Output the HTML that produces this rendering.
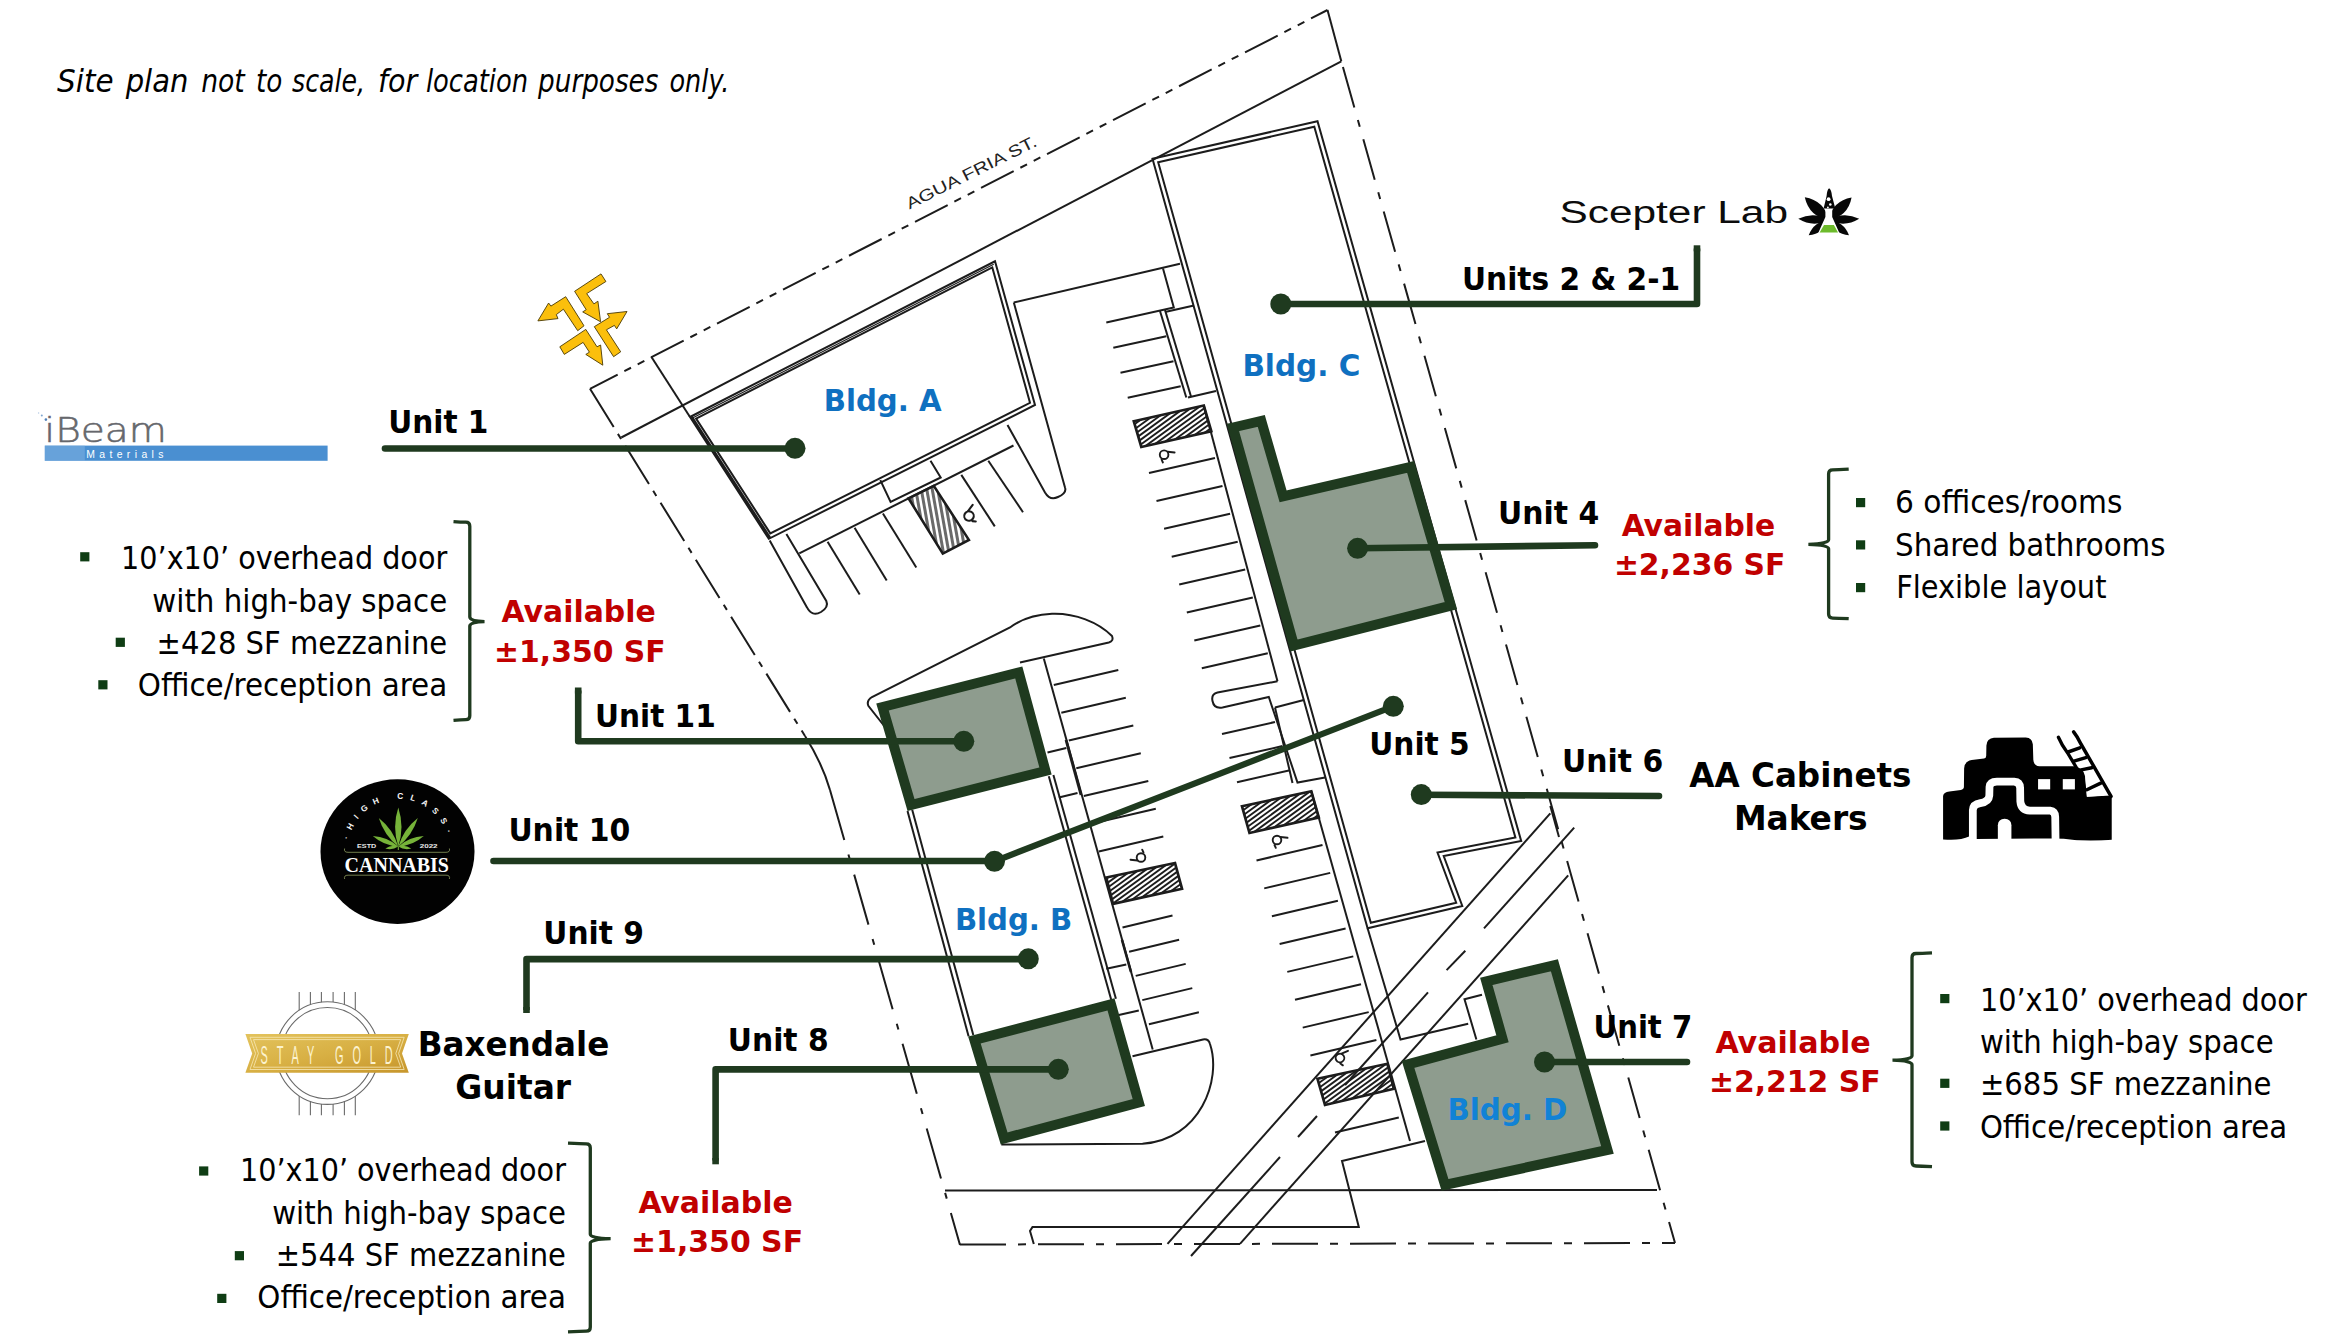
<!DOCTYPE html>
<html lang="en"><head><meta charset="utf-8"><title>Site plan</title>
<style>
html,body{margin:0;padding:0;background:#fff;}
body{width:2346px;height:1341px;overflow:hidden;}
svg{display:block;}
text{white-space:pre;}
</style></head>
<body>
<svg width="2346" height="1341" viewBox="0 0 2346 1341">
<rect width="2346" height="1341" fill="#fff"/>
<g id="plan" stroke-linecap="butt">
<line x1="590" y1="388.8" x2="1327.5" y2="10" stroke="#1c1c1c" stroke-width="2.0" stroke-dasharray="36.7 7.5 7.5 7.5 7.5 7.5" stroke-dashoffset="5.6"/>
<line x1="590" y1="388.8" x2="805" y2="736" stroke="#1c1c1c" stroke-width="2.0" stroke-dasharray="45 8 6 8"/>
<path d="M805,736 Q822.5,763.8 830,790" fill="none" stroke="#1c1c1c" stroke-width="2.0" />
<line x1="830" y1="790" x2="960" y2="1245" stroke="#1c1c1c" stroke-width="2.0" stroke-dasharray="52 15 6 15"/>
<line x1="960" y1="1244.5" x2="1675" y2="1243" stroke="#1c1c1c" stroke-width="2.0" stroke-dasharray="46 12 8 12"/>
<line x1="1341.3" y1="61.3" x2="1675" y2="1243" stroke="#1c1c1c" stroke-width="2.0" stroke-dasharray="42 13 7 13" stroke-dashoffset="-6"/>
<line x1="1341.3" y1="61.3" x2="1327.5" y2="10" stroke="#1c1c1c" stroke-width="2.0" />
<line x1="1550.3" y1="806" x2="1559" y2="837" stroke="#1c1c1c" stroke-width="2.0" />
<line x1="621.3" y1="437.5" x2="1341.3" y2="61.3" stroke="#1c1c1c" stroke-width="2.0" />
<line x1="651.3" y1="356.8" x2="690" y2="417" stroke="#1c1c1c" stroke-width="2.0" />
<polygon points="690,417 995,261.3 1035,405 768.8,538.8" fill="none" stroke="#1c1c1c" stroke-width="2.0" />
<polygon points="696.1,418.6 992.3,267.4 1030,402.8 770.3,533.4" fill="none" stroke="#1c1c1c" stroke-width="2.0" />
<line x1="691.6" y1="416.6" x2="770.2" y2="538.2" stroke="#1c1c1c" stroke-width="2.6" />
<line x1="693" y1="417.8" x2="993.7" y2="264.3" stroke="#1c1c1c" stroke-width="1.2" />
<line x1="799.3" y1="553.4" x2="1013.5" y2="445.5" stroke="#1c1c1c" stroke-width="2.0" />
<path d="M769.7,540.5 L807,607.4 Q812,617 821,612 Q829,607 826.3,601 L786.4,534.1" fill="none" stroke="#1c1c1c" stroke-width="2.0" />
<line x1="827.6" y1="541.8" x2="859.7" y2="594.6" stroke="#1c1c1c" stroke-width="2.0" />
<line x1="854.6" y1="527.7" x2="886.7" y2="580.4" stroke="#1c1c1c" stroke-width="2.0" />
<line x1="882.9" y1="513.5" x2="916.3" y2="567.5" stroke="#1c1c1c" stroke-width="2.0" />
<line x1="961.3" y1="474.9" x2="994.8" y2="526.4" stroke="#1c1c1c" stroke-width="2.0" />
<line x1="988.3" y1="460.8" x2="1023" y2="512.2" stroke="#1c1c1c" stroke-width="2.0" />
<clipPath id="hb1"><polygon points="908.5,498.3 933.8,485.9 968.9,539.9 942.8,553.6"/></clipPath>
<g clip-path="url(#hb1)" stroke="#6a6a6a" stroke-width="3.0"><line x1="1012.3" y1="414.6" x2="1043.8" y2="593.3"/><line x1="1007" y1="415.6" x2="1038.5" y2="594.3"/><line x1="1001.7" y1="416.5" x2="1033.2" y2="595.2"/><line x1="996.3" y1="417.5" x2="1027.8" y2="596.2"/><line x1="991" y1="418.4" x2="1022.5" y2="597.1"/><line x1="985.7" y1="419.3" x2="1017.2" y2="598"/><line x1="980.4" y1="420.3" x2="1011.9" y2="599"/><line x1="975.1" y1="421.2" x2="1006.6" y2="599.9"/><line x1="969.8" y1="422.1" x2="1001.3" y2="600.8"/><line x1="964.4" y1="423.1" x2="995.9" y2="601.8"/><line x1="959.1" y1="424" x2="990.6" y2="602.7"/><line x1="953.8" y1="425" x2="985.3" y2="603.7"/><line x1="948.5" y1="425.9" x2="980" y2="604.6"/><line x1="943.2" y1="426.8" x2="974.7" y2="605.5"/><line x1="937.8" y1="427.8" x2="969.4" y2="606.5"/><line x1="932.5" y1="428.7" x2="964" y2="607.4"/><line x1="927.2" y1="429.6" x2="958.7" y2="608.3"/><line x1="921.9" y1="430.6" x2="953.4" y2="609.3"/><line x1="916.6" y1="431.5" x2="948.1" y2="610.2"/><line x1="911.3" y1="432.5" x2="942.8" y2="611.2"/><line x1="905.9" y1="433.4" x2="937.4" y2="612.1"/><line x1="900.6" y1="434.3" x2="932.1" y2="613"/><line x1="895.3" y1="435.3" x2="926.8" y2="614"/><line x1="890" y1="436.2" x2="921.5" y2="614.9"/><line x1="884.7" y1="437.2" x2="916.2" y2="615.8"/><line x1="879.3" y1="438.1" x2="910.9" y2="616.8"/><line x1="874" y1="439" x2="905.5" y2="617.7"/><line x1="868.7" y1="440" x2="900.2" y2="618.7"/><line x1="863.4" y1="440.9" x2="894.9" y2="619.6"/><line x1="858.1" y1="441.8" x2="889.6" y2="620.5"/><line x1="852.8" y1="442.8" x2="884.3" y2="621.5"/><line x1="847.4" y1="443.7" x2="878.9" y2="622.4"/><line x1="842.1" y1="444.7" x2="873.6" y2="623.4"/><line x1="836.8" y1="445.6" x2="868.3" y2="624.3"/></g>
<polygon points="908.5,498.3 933.8,485.9 968.9,539.9 942.8,553.6" fill="none" stroke="#1c1c1c" stroke-width="2.6"/>
<g transform="translate(969,516) rotate(-60) scale(1.1)" fill="none" stroke="#1c1c1c" stroke-width="1.9" stroke-linecap="round"><circle cx="0" cy="0" r="4.3"/><path d="M3.5,-3 L10.5,-2.2"/><path d="M-2.5,5 L-1.2,7.8"/></g>
<polyline points="880.3,480.1 890.6,502 940.7,477.5 930.5,460.8" fill="none" stroke="#1c1c1c" stroke-width="2.0" />
<path d="M1007.5,425 L1045,492.5 Q1050,501 1058,497 Q1067,493 1065,487.5 L1013.8,302.5" fill="none" stroke="#1c1c1c" stroke-width="2.0" />
<line x1="1013.8" y1="302.5" x2="1180" y2="263.8" stroke="#1c1c1c" stroke-width="2.0" />
<polyline points="1163,268.5 1173.8,307.5 1106.3,322.5" fill="none" stroke="#1c1c1c" stroke-width="2.0" />
<polyline points="1160,311 1186.3,397.5" fill="none" stroke="#1c1c1c" stroke-width="2.0" />
<polyline points="1165,310 1191,396.5" fill="none" stroke="#1c1c1c" stroke-width="2.0" />
<line x1="1165" y1="312" x2="1194" y2="305.5" stroke="#1c1c1c" stroke-width="2.0" />
<line x1="1188" y1="397.5" x2="1216" y2="391" stroke="#1c1c1c" stroke-width="2.0" />
<line x1="1166.3" y1="336.3" x2="1113.3" y2="347.8" stroke="#1c1c1c" stroke-width="2.0" />
<line x1="1173.5" y1="361.3" x2="1120.5" y2="372.8" stroke="#1c1c1c" stroke-width="2.0" />
<line x1="1180.7" y1="386.3" x2="1127.7" y2="397.8" stroke="#1c1c1c" stroke-width="2.0" />
<clipPath id="hb2"><polygon points="1133.8,421.3 1203.8,405.5 1211.3,431.3 1141.3,447"/></clipPath>
<g clip-path="url(#hb2)" stroke="#1c1c1c" stroke-width="1.9"><line x1="1049.8" y1="406.8" x2="1192" y2="303.5"/><line x1="1052.1" y1="410" x2="1194.4" y2="306.7"/><line x1="1054.5" y1="413.3" x2="1196.7" y2="309.9"/><line x1="1056.8" y1="416.5" x2="1199.1" y2="313.2"/><line x1="1059.2" y1="419.7" x2="1201.4" y2="316.4"/><line x1="1061.5" y1="423" x2="1203.8" y2="319.6"/><line x1="1063.9" y1="426.2" x2="1206.1" y2="322.9"/><line x1="1066.2" y1="429.5" x2="1208.5" y2="326.1"/><line x1="1068.6" y1="432.7" x2="1210.8" y2="329.3"/><line x1="1070.9" y1="435.9" x2="1213.2" y2="332.6"/><line x1="1073.3" y1="439.2" x2="1215.5" y2="335.8"/><line x1="1075.6" y1="442.4" x2="1217.9" y2="339.1"/><line x1="1078" y1="445.6" x2="1220.2" y2="342.3"/><line x1="1080.3" y1="448.9" x2="1222.6" y2="345.5"/><line x1="1082.7" y1="452.1" x2="1224.9" y2="348.8"/><line x1="1085" y1="455.3" x2="1227.3" y2="352"/><line x1="1087.4" y1="458.6" x2="1229.6" y2="355.2"/><line x1="1089.7" y1="461.8" x2="1232" y2="358.5"/><line x1="1092.1" y1="465.1" x2="1234.3" y2="361.7"/><line x1="1094.4" y1="468.3" x2="1236.7" y2="364.9"/><line x1="1096.8" y1="471.5" x2="1239" y2="368.2"/><line x1="1099.1" y1="474.8" x2="1241.4" y2="371.4"/><line x1="1101.5" y1="478" x2="1243.7" y2="374.6"/><line x1="1103.8" y1="481.2" x2="1246.1" y2="377.9"/><line x1="1106.2" y1="484.5" x2="1248.4" y2="381.1"/><line x1="1108.5" y1="487.7" x2="1250.8" y2="384.4"/><line x1="1110.9" y1="490.9" x2="1253.1" y2="387.6"/><line x1="1113.2" y1="494.2" x2="1255.5" y2="390.8"/><line x1="1115.6" y1="497.4" x2="1257.8" y2="394.1"/><line x1="1117.9" y1="500.6" x2="1260.2" y2="397.3"/><line x1="1120.3" y1="503.9" x2="1262.5" y2="400.5"/><line x1="1122.6" y1="507.1" x2="1264.9" y2="403.8"/><line x1="1125" y1="510.4" x2="1267.2" y2="407"/><line x1="1127.3" y1="513.6" x2="1269.6" y2="410.2"/><line x1="1129.7" y1="516.8" x2="1271.9" y2="413.5"/><line x1="1132" y1="520.1" x2="1274.3" y2="416.7"/><line x1="1134.4" y1="523.3" x2="1276.6" y2="420"/><line x1="1136.7" y1="526.5" x2="1279" y2="423.2"/><line x1="1139.1" y1="529.8" x2="1281.3" y2="426.4"/><line x1="1141.4" y1="533" x2="1283.7" y2="429.7"/><line x1="1143.8" y1="536.2" x2="1286" y2="432.9"/><line x1="1146.2" y1="539.5" x2="1288.4" y2="436.1"/><line x1="1148.5" y1="542.7" x2="1290.7" y2="439.4"/><line x1="1150.9" y1="546" x2="1293.1" y2="442.6"/></g>
<polygon points="1133.8,421.3 1203.8,405.5 1211.3,431.3 1141.3,447" fill="none" stroke="#1c1c1c" stroke-width="2.7"/>
<g transform="translate(1164.1,454.7) rotate(0) scale(1)" fill="none" stroke="#1c1c1c" stroke-width="1.9" stroke-linecap="round"><circle cx="0" cy="0" r="4.3"/><path d="M3.5,-3 L10.5,-2.2"/><path d="M-2.5,5 L-1.2,7.8"/></g>
<line x1="1203.8" y1="405.6" x2="1277.5" y2="681.3" stroke="#1c1c1c" stroke-width="2.0" />
<line x1="1215" y1="458" x2="1149" y2="473" stroke="#1c1c1c" stroke-width="2.0" />
<line x1="1222.5" y1="485.9" x2="1156.5" y2="500.9" stroke="#1c1c1c" stroke-width="2.0" />
<line x1="1230.1" y1="513.8" x2="1164.1" y2="528.8" stroke="#1c1c1c" stroke-width="2.0" />
<line x1="1237.7" y1="541.7" x2="1171.7" y2="556.7" stroke="#1c1c1c" stroke-width="2.0" />
<line x1="1245.2" y1="569.6" x2="1179.2" y2="584.6" stroke="#1c1c1c" stroke-width="2.0" />
<line x1="1252.8" y1="597.5" x2="1186.8" y2="612.5" stroke="#1c1c1c" stroke-width="2.0" />
<line x1="1260.3" y1="625.4" x2="1194.3" y2="640.4" stroke="#1c1c1c" stroke-width="2.0" />
<line x1="1267.8" y1="653.3" x2="1201.8" y2="668.3" stroke="#1c1c1c" stroke-width="2.0" />
<path d="M1277.5,681.3 L1217.5,692.5 Q1211,694 1212.5,701 Q1214,709 1222.5,707.5 L1268.8,697 L1297.5,782.5 L1325,777.5" fill="none" stroke="#1c1c1c" stroke-width="2.0" />
<polyline points="1275,707.5 1303.8,700" fill="none" stroke="#1c1c1c" stroke-width="2.0" />
<polyline points="1275,707.5 1292.5,783" fill="none" stroke="#1c1c1c" stroke-width="2.0" />
<line x1="1275" y1="722" x2="1222" y2="734" stroke="#1c1c1c" stroke-width="2.0" />
<line x1="1282.5" y1="746.1" x2="1229.5" y2="758.1" stroke="#1c1c1c" stroke-width="2.0" />
<line x1="1290" y1="770.2" x2="1237" y2="782.2" stroke="#1c1c1c" stroke-width="2.0" />
<clipPath id="hb3"><polygon points="1242,806.3 1311.3,791.3 1318.8,817.5 1249.5,833"/></clipPath>
<g clip-path="url(#hb3)" stroke="#1c1c1c" stroke-width="1.9"><line x1="1158.3" y1="792.8" x2="1299.7" y2="690.1"/><line x1="1160.7" y1="796.1" x2="1302.1" y2="693.3"/><line x1="1163" y1="799.3" x2="1304.4" y2="696.6"/><line x1="1165.4" y1="802.5" x2="1306.8" y2="699.8"/><line x1="1167.7" y1="805.8" x2="1309.1" y2="703"/><line x1="1170.1" y1="809" x2="1311.5" y2="706.3"/><line x1="1172.4" y1="812.2" x2="1313.8" y2="709.5"/><line x1="1174.8" y1="815.5" x2="1316.2" y2="712.7"/><line x1="1177.1" y1="818.7" x2="1318.5" y2="716"/><line x1="1179.5" y1="821.9" x2="1320.9" y2="719.2"/><line x1="1181.8" y1="825.2" x2="1323.2" y2="722.4"/><line x1="1184.2" y1="828.4" x2="1325.6" y2="725.7"/><line x1="1186.5" y1="831.6" x2="1327.9" y2="728.9"/><line x1="1188.9" y1="834.9" x2="1330.3" y2="732.2"/><line x1="1191.2" y1="838.1" x2="1332.6" y2="735.4"/><line x1="1193.6" y1="841.4" x2="1335" y2="738.6"/><line x1="1196" y1="844.6" x2="1337.4" y2="741.9"/><line x1="1198.3" y1="847.8" x2="1339.7" y2="745.1"/><line x1="1200.7" y1="851.1" x2="1342.1" y2="748.3"/><line x1="1203" y1="854.3" x2="1344.4" y2="751.6"/><line x1="1205.4" y1="857.5" x2="1346.8" y2="754.8"/><line x1="1207.7" y1="860.8" x2="1349.1" y2="758"/><line x1="1210.1" y1="864" x2="1351.5" y2="761.3"/><line x1="1212.4" y1="867.2" x2="1353.8" y2="764.5"/><line x1="1214.8" y1="870.5" x2="1356.2" y2="767.7"/><line x1="1217.1" y1="873.7" x2="1358.5" y2="771"/><line x1="1219.5" y1="877" x2="1360.9" y2="774.2"/><line x1="1221.8" y1="880.2" x2="1363.2" y2="777.5"/><line x1="1224.2" y1="883.4" x2="1365.6" y2="780.7"/><line x1="1226.5" y1="886.7" x2="1367.9" y2="783.9"/><line x1="1228.9" y1="889.9" x2="1370.3" y2="787.2"/><line x1="1231.2" y1="893.1" x2="1372.6" y2="790.4"/><line x1="1233.6" y1="896.4" x2="1375" y2="793.6"/><line x1="1235.9" y1="899.6" x2="1377.3" y2="796.9"/><line x1="1238.3" y1="902.8" x2="1379.7" y2="800.1"/><line x1="1240.6" y1="906.1" x2="1382" y2="803.3"/><line x1="1243" y1="909.3" x2="1384.4" y2="806.6"/><line x1="1245.3" y1="912.6" x2="1386.7" y2="809.8"/><line x1="1247.7" y1="915.8" x2="1389.1" y2="813.1"/><line x1="1250" y1="919" x2="1391.4" y2="816.3"/><line x1="1252.4" y1="922.3" x2="1393.8" y2="819.5"/><line x1="1254.7" y1="925.5" x2="1396.1" y2="822.8"/><line x1="1257.1" y1="928.7" x2="1398.5" y2="826"/><line x1="1259.4" y1="932" x2="1400.8" y2="829.2"/></g>
<polygon points="1242,806.3 1311.3,791.3 1318.8,817.5 1249.5,833" fill="none" stroke="#1c1c1c" stroke-width="2.7"/>
<g transform="translate(1277,840) rotate(0) scale(1)" fill="none" stroke="#1c1c1c" stroke-width="1.9" stroke-linecap="round"><circle cx="0" cy="0" r="4.3"/><path d="M3.5,-3 L10.5,-2.2"/><path d="M-2.5,5 L-1.2,7.8"/></g>
<line x1="1311.3" y1="791.3" x2="1410" y2="1141" stroke="#1c1c1c" stroke-width="2.0" />
<line x1="1322.5" y1="845" x2="1256.5" y2="860.5" stroke="#1c1c1c" stroke-width="2.0" />
<line x1="1330.2" y1="872.9" x2="1264.2" y2="888.4" stroke="#1c1c1c" stroke-width="2.0" />
<line x1="1337.9" y1="900.7" x2="1271.9" y2="916.2" stroke="#1c1c1c" stroke-width="2.0" />
<line x1="1345.6" y1="928.5" x2="1279.6" y2="944" stroke="#1c1c1c" stroke-width="2.0" />
<line x1="1353.3" y1="956.4" x2="1287.3" y2="971.9" stroke="#1c1c1c" stroke-width="2.0" />
<line x1="1361" y1="984.2" x2="1295" y2="999.8" stroke="#1c1c1c" stroke-width="2.0" />
<line x1="1368.7" y1="1012.1" x2="1302.7" y2="1027.6" stroke="#1c1c1c" stroke-width="2.0" />
<line x1="1376.4" y1="1040" x2="1310.4" y2="1055.5" stroke="#1c1c1c" stroke-width="2.0" />
<clipPath id="hb4"><polygon points="1317.5,1078.8 1387.5,1063.8 1393.8,1088.8 1325,1105"/></clipPath>
<g clip-path="url(#hb4)" stroke="#1c1c1c" stroke-width="1.9"><line x1="1234.5" y1="1065.2" x2="1374.8" y2="963.3"/><line x1="1236.9" y1="1068.5" x2="1377.2" y2="966.5"/><line x1="1239.2" y1="1071.7" x2="1379.5" y2="969.8"/><line x1="1241.6" y1="1074.9" x2="1381.9" y2="973"/><line x1="1243.9" y1="1078.2" x2="1384.2" y2="976.2"/><line x1="1246.3" y1="1081.4" x2="1386.6" y2="979.5"/><line x1="1248.6" y1="1084.6" x2="1388.9" y2="982.7"/><line x1="1251" y1="1087.9" x2="1391.3" y2="985.9"/><line x1="1253.3" y1="1091.1" x2="1393.6" y2="989.2"/><line x1="1255.7" y1="1094.3" x2="1396" y2="992.4"/><line x1="1258" y1="1097.6" x2="1398.3" y2="995.6"/><line x1="1260.4" y1="1100.8" x2="1400.7" y2="998.9"/><line x1="1262.7" y1="1104" x2="1403" y2="1002.1"/><line x1="1265.1" y1="1107.3" x2="1405.4" y2="1005.3"/><line x1="1267.4" y1="1110.5" x2="1407.7" y2="1008.6"/><line x1="1269.8" y1="1113.8" x2="1410.1" y2="1011.8"/><line x1="1272.1" y1="1117" x2="1412.5" y2="1015.1"/><line x1="1274.5" y1="1120.2" x2="1414.8" y2="1018.3"/><line x1="1276.8" y1="1123.5" x2="1417.2" y2="1021.5"/><line x1="1279.2" y1="1126.7" x2="1419.5" y2="1024.8"/><line x1="1281.6" y1="1129.9" x2="1421.9" y2="1028"/><line x1="1283.9" y1="1133.2" x2="1424.2" y2="1031.2"/><line x1="1286.3" y1="1136.4" x2="1426.6" y2="1034.5"/><line x1="1288.6" y1="1139.6" x2="1428.9" y2="1037.7"/><line x1="1291" y1="1142.9" x2="1431.3" y2="1040.9"/><line x1="1293.3" y1="1146.1" x2="1433.6" y2="1044.2"/><line x1="1295.7" y1="1149.4" x2="1436" y2="1047.4"/><line x1="1298" y1="1152.6" x2="1438.3" y2="1050.7"/><line x1="1300.4" y1="1155.8" x2="1440.7" y2="1053.9"/><line x1="1302.7" y1="1159.1" x2="1443" y2="1057.1"/><line x1="1305.1" y1="1162.3" x2="1445.4" y2="1060.4"/><line x1="1307.4" y1="1165.5" x2="1447.7" y2="1063.6"/><line x1="1309.8" y1="1168.8" x2="1450.1" y2="1066.8"/><line x1="1312.1" y1="1172" x2="1452.4" y2="1070.1"/><line x1="1314.5" y1="1175.2" x2="1454.8" y2="1073.3"/><line x1="1316.8" y1="1178.5" x2="1457.1" y2="1076.5"/><line x1="1319.2" y1="1181.7" x2="1459.5" y2="1079.8"/><line x1="1321.5" y1="1185" x2="1461.8" y2="1083"/><line x1="1323.9" y1="1188.2" x2="1464.2" y2="1086.2"/><line x1="1326.2" y1="1191.4" x2="1466.5" y2="1089.5"/><line x1="1328.6" y1="1194.7" x2="1468.9" y2="1092.7"/><line x1="1330.9" y1="1197.9" x2="1471.2" y2="1096"/><line x1="1333.3" y1="1201.1" x2="1473.6" y2="1099.2"/><line x1="1335.6" y1="1204.4" x2="1475.9" y2="1102.4"/></g>
<polygon points="1317.5,1078.8 1387.5,1063.8 1393.8,1088.8 1325,1105" fill="none" stroke="#1c1c1c" stroke-width="2.7"/>
<g transform="translate(1340,1058) rotate(-30) scale(1)" fill="none" stroke="#1c1c1c" stroke-width="1.9" stroke-linecap="round"><circle cx="0" cy="0" r="4.3"/><path d="M3.5,-3 L10.5,-2.2"/><path d="M-2.5,5 L-1.2,7.8"/></g>
<line x1="1398.8" y1="1117.5" x2="1335" y2="1132.5" stroke="#1c1c1c" stroke-width="2.0" />
<polygon points="1152.5,158.8 1317.5,121.3 1521.2,841 1443.7,856 1462.3,906 1367.6,928.3" fill="none" stroke="#1c1c1c" stroke-width="2.0" />
<polygon points="1158.2,162.2 1314.3,126.8 1515.4,837.4 1437.5,852.5 1456.2,902.7 1370.8,922.8" fill="none" stroke="#1c1c1c" stroke-width="2.0" />
<polyline points="1367.6,928.3 1400.5,1039.5 1468.2,1023.8" fill="none" stroke="#1c1c1c" stroke-width="2.0" />
<polyline points="1476.4,1039.5 1464.5,999.2 1482,994.7" fill="none" stroke="#1c1c1c" stroke-width="2.0" />
<line x1="907.5" y1="811" x2="968.6" y2="1036.3" stroke="#1c1c1c" stroke-width="2.0" />
<line x1="912.2" y1="809.8" x2="973.3" y2="1035.1" stroke="#1c1c1c" stroke-width="2.0" />
<line x1="1048.8" y1="776.3" x2="1111.3" y2="1000" stroke="#1c1c1c" stroke-width="2.0" />
<line x1="1053.4" y1="775" x2="1115.9" y2="998.8" stroke="#1c1c1c" stroke-width="2.0" />
<line x1="1043.8" y1="658.5" x2="1152.7" y2="1049.5" stroke="#1c1c1c" stroke-width="2.0" />
<line x1="1066" y1="740" x2="1081" y2="795" stroke="#1c1c1c" stroke-width="2.8" />
<line x1="1122" y1="940" x2="1131" y2="972" stroke="#1c1c1c" stroke-width="2.6" />
<line x1="1047.5" y1="752.5" x2="1066.3" y2="748" stroke="#1c1c1c" stroke-width="2.0" />
<line x1="1058.8" y1="797.5" x2="1077.5" y2="793" stroke="#1c1c1c" stroke-width="2.0" />
<line x1="1106.3" y1="968.8" x2="1126.3" y2="964.5" stroke="#1c1c1c" stroke-width="2.0" />
<line x1="1118.8" y1="1015" x2="1138.8" y2="1010.5" stroke="#1c1c1c" stroke-width="2.0" />
<path d="M1020,662.5 L1108.8,642.5 Q1114,641 1112,636 C1098,622 1075,613 1052,613.8 C1035,614.5 1020,620 1010,627.5 L872,697 Q866,701 868.5,706 L885,727" fill="none" stroke="#1c1c1c" stroke-width="2.0" />
<line x1="1053.8" y1="685" x2="1118.3" y2="670" stroke="#1c1c1c" stroke-width="2.0" />
<line x1="1061.3" y1="712.8" x2="1125.8" y2="697.8" stroke="#1c1c1c" stroke-width="2.0" />
<line x1="1068.8" y1="740.5" x2="1133.3" y2="725.5" stroke="#1c1c1c" stroke-width="2.0" />
<line x1="1076.3" y1="768.2" x2="1140.8" y2="753.2" stroke="#1c1c1c" stroke-width="2.0" />
<line x1="1083.8" y1="796" x2="1148.3" y2="781" stroke="#1c1c1c" stroke-width="2.0" />
<line x1="1091.3" y1="823.8" x2="1155.8" y2="808.8" stroke="#1c1c1c" stroke-width="2.0" />
<line x1="1098.8" y1="851.5" x2="1163.3" y2="836.5" stroke="#1c1c1c" stroke-width="2.0" />
<g transform="translate(1141,857.5) rotate(180) scale(1)" fill="none" stroke="#1c1c1c" stroke-width="1.9" stroke-linecap="round"><circle cx="0" cy="0" r="4.3"/><path d="M3.5,-3 L10.5,-2.2"/><path d="M-2.5,5 L-1.2,7.8"/></g>
<clipPath id="hb5"><polygon points="1106.3,877.5 1175,863 1182,888.8 1113,903.8"/></clipPath>
<g clip-path="url(#hb5)" stroke="#1c1c1c" stroke-width="1.9"><line x1="1024" y1="864.4" x2="1163.2" y2="763.3"/><line x1="1026.4" y1="867.6" x2="1165.5" y2="766.5"/><line x1="1028.7" y1="870.8" x2="1167.9" y2="769.8"/><line x1="1031.1" y1="874.1" x2="1170.2" y2="773"/><line x1="1033.4" y1="877.3" x2="1172.6" y2="776.2"/><line x1="1035.8" y1="880.6" x2="1174.9" y2="779.5"/><line x1="1038.1" y1="883.8" x2="1177.3" y2="782.7"/><line x1="1040.5" y1="887" x2="1179.6" y2="785.9"/><line x1="1042.8" y1="890.3" x2="1182" y2="789.2"/><line x1="1045.2" y1="893.5" x2="1184.3" y2="792.4"/><line x1="1047.5" y1="896.7" x2="1186.7" y2="795.6"/><line x1="1049.9" y1="900" x2="1189" y2="798.9"/><line x1="1052.2" y1="903.2" x2="1191.4" y2="802.1"/><line x1="1054.6" y1="906.4" x2="1193.7" y2="805.4"/><line x1="1056.9" y1="909.7" x2="1196.1" y2="808.6"/><line x1="1059.3" y1="912.9" x2="1198.4" y2="811.8"/><line x1="1061.7" y1="916.2" x2="1200.8" y2="815.1"/><line x1="1064" y1="919.4" x2="1203.1" y2="818.3"/><line x1="1066.4" y1="922.6" x2="1205.5" y2="821.5"/><line x1="1068.7" y1="925.9" x2="1207.8" y2="824.8"/><line x1="1071.1" y1="929.1" x2="1210.2" y2="828"/><line x1="1073.4" y1="932.3" x2="1212.5" y2="831.2"/><line x1="1075.8" y1="935.6" x2="1214.9" y2="834.5"/><line x1="1078.1" y1="938.8" x2="1217.3" y2="837.7"/><line x1="1080.5" y1="942" x2="1219.6" y2="840.9"/><line x1="1082.8" y1="945.3" x2="1222" y2="844.2"/><line x1="1085.2" y1="948.5" x2="1224.3" y2="847.4"/><line x1="1087.5" y1="951.7" x2="1226.7" y2="850.7"/><line x1="1089.9" y1="955" x2="1229" y2="853.9"/><line x1="1092.2" y1="958.2" x2="1231.4" y2="857.1"/><line x1="1094.6" y1="961.5" x2="1233.7" y2="860.4"/><line x1="1096.9" y1="964.7" x2="1236.1" y2="863.6"/><line x1="1099.3" y1="967.9" x2="1238.4" y2="866.8"/><line x1="1101.6" y1="971.2" x2="1240.8" y2="870.1"/><line x1="1104" y1="974.4" x2="1243.1" y2="873.3"/><line x1="1106.3" y1="977.6" x2="1245.5" y2="876.5"/><line x1="1108.7" y1="980.9" x2="1247.8" y2="879.8"/><line x1="1111" y1="984.1" x2="1250.2" y2="883"/><line x1="1113.4" y1="987.3" x2="1252.5" y2="886.3"/><line x1="1115.7" y1="990.6" x2="1254.9" y2="889.5"/><line x1="1118.1" y1="993.8" x2="1257.2" y2="892.7"/><line x1="1120.4" y1="997.1" x2="1259.6" y2="896"/><line x1="1122.8" y1="1000.3" x2="1261.9" y2="899.2"/></g>
<polygon points="1106.3,877.5 1175,863 1182,888.8 1113,903.8" fill="none" stroke="#1c1c1c" stroke-width="2.7"/>
<line x1="1122.5" y1="927.5" x2="1172.5" y2="915.5" stroke="#1c1c1c" stroke-width="2.0" />
<line x1="1129.1" y1="951.7" x2="1179.1" y2="939.7" stroke="#1c1c1c" stroke-width="2.0" />
<line x1="1135.7" y1="975.9" x2="1185.7" y2="963.9" stroke="#1c1c1c" stroke-width="2.0" />
<line x1="1142.3" y1="1000.1" x2="1192.3" y2="988.1" stroke="#1c1c1c" stroke-width="2.0" />
<line x1="1148.9" y1="1024.3" x2="1198.9" y2="1012.3" stroke="#1c1c1c" stroke-width="2.0" />
<path d="M1132.5,1056.3 L1203,1039.5 Q1208.5,1038.5 1210,1044 C1222,1080 1200,1140 1142.5,1143.8 L1001.3,1144.5" fill="none" stroke="#1c1c1c" stroke-width="2.0" />
<line x1="945" y1="1190.5" x2="1657" y2="1190" stroke="#1c1c1c" stroke-width="2.0" />
<polyline points="1033.8,1244 1030,1231 1032.5,1227 1358.8,1227 1342,1161 1425,1141" fill="none" stroke="#1c1c1c" stroke-width="2.0" />
<line x1="1550.3" y1="813.4" x2="1167.5" y2="1243.8" stroke="#1c1c1c" stroke-width="2.0" />
<line x1="1568.2" y1="875.3" x2="1240" y2="1243.8" stroke="#1c1c1c" stroke-width="2.0" />
<line x1="1574.2" y1="827.6" x2="1484" y2="928.3" stroke="#1c1c1c" stroke-width="2.0" />
<line x1="1465.3" y1="950.7" x2="1446.6" y2="970.1" stroke="#1c1c1c" stroke-width="2.0" />
<line x1="1428" y1="992.4" x2="1345" y2="1085" stroke="#1c1c1c" stroke-width="2.0" />
<line x1="1317" y1="1116" x2="1298" y2="1137" stroke="#1c1c1c" stroke-width="2.0" />
<line x1="1280" y1="1157" x2="1191" y2="1256" stroke="#1c1c1c" stroke-width="2.0" />
</g>
<g id="units">
<polygon points="1232.9,427.5 1261.3,421 1283.1,496.3 1410.6,466.9 1450.9,605.6 1294,645.5" fill="#8e9c8e" stroke="#1f3a1f" stroke-width="10" stroke-linejoin="miter"/>
<polygon points="882.5,707 1018.8,672.5 1045.5,771 911,805" fill="#8e9c8e" stroke="#1f3a1f" stroke-width="10" stroke-linejoin="miter"/>
<polygon points="974.4,1040 1111,1004.4 1138.8,1102.5 1004.1,1138.5" fill="#8e9c8e" stroke="#1f3a1f" stroke-width="10" stroke-linejoin="miter"/>
<polygon points="1486.3,981.3 1554.4,965.3 1607.5,1150 1445,1185 1408,1064.3 1502.5,1038.8" fill="#8e9c8e" stroke="#1f3a1f" stroke-width="10" stroke-linejoin="miter"/>
</g>
<g id="leaders">
<path d="M385,448.5 H795" fill="none" stroke="#1f3a1f" stroke-width="6.6" stroke-linecap="round" stroke-linejoin="round"/>
<circle cx="795" cy="448.3" r="10.5" fill="#1f3a1f"/>
<path d="M1280.8,304 H1697 V248.5" fill="none" stroke="#1f3a1f" stroke-width="6.6" stroke-linecap="butt" stroke-linejoin="round"/>
<circle cx="1280.8" cy="304" r="10.5" fill="#1f3a1f"/>
<path d="M1357.6,548.3 L1595,545.2" fill="none" stroke="#1f3a1f" stroke-width="6.6" stroke-linecap="round" stroke-linejoin="round"/>
<circle cx="1357.6" cy="548.3" r="10.5" fill="#1f3a1f"/>
<path d="M1393.3,706.3 L994.5,861.3" fill="none" stroke="#1f3a1f" stroke-width="6.2" stroke-linecap="round" stroke-linejoin="round"/>
<circle cx="1393.3" cy="706.3" r="10.5" fill="#1f3a1f"/>
<path d="M1421.3,794.8 L1659,796" fill="none" stroke="#1f3a1f" stroke-width="6.6" stroke-linecap="round" stroke-linejoin="round"/>
<circle cx="1421.3" cy="794.6" r="10.5" fill="#1f3a1f"/>
<path d="M1544.5,1062 H1687" fill="none" stroke="#1f3a1f" stroke-width="6.6" stroke-linecap="round" stroke-linejoin="round"/>
<circle cx="1544.5" cy="1062" r="10.5" fill="#1f3a1f"/>
<path d="M715.6,1160.5 V1069.4 H1058.3" fill="none" stroke="#1f3a1f" stroke-width="6.6" stroke-linecap="butt" stroke-linejoin="round"/>
<circle cx="1058.3" cy="1069.3" r="10.5" fill="#1f3a1f"/>
<path d="M526.5,1010 V959.1 H1028.3" fill="none" stroke="#1f3a1f" stroke-width="6.6" stroke-linecap="butt" stroke-linejoin="round"/>
<circle cx="1028.3" cy="958.8" r="10.5" fill="#1f3a1f"/>
<path d="M493.5,861 H994.5" fill="none" stroke="#1f3a1f" stroke-width="6.6" stroke-linecap="round" stroke-linejoin="round"/>
<circle cx="994.5" cy="861.3" r="10.5" fill="#1f3a1f"/>
<path d="M578.2,690.5 V741.2 H963.8" fill="none" stroke="#1f3a1f" stroke-width="6.6" stroke-linecap="butt" stroke-linejoin="round"/>
<circle cx="963.8" cy="741.3" r="10.5" fill="#1f3a1f"/>
</g>
<g fill="#1f3a1f"><rect x="1693.7" y="245.3" width="6.6" height="6"/><rect x="712.3" y="1158" width="6.6" height="6.3"/><rect x="523.2" y="1007" width="6.6" height="6"/><rect x="574.9" y="687.5" width="6.6" height="6"/></g>
<g id="labels">
<text x="388.2" y="433.3" font-family="'DejaVu Sans Condensed','DejaVu Sans','Liberation Sans',sans-serif" font-size="32.5" font-weight="bold" font-style="normal" fill="#000" textLength="100.2" lengthAdjust="spacingAndGlyphs" >Unit 1</text>
<text x="1462" y="289.9" font-family="'DejaVu Sans Condensed','DejaVu Sans','Liberation Sans',sans-serif" font-size="32.5" font-weight="bold" font-style="normal" fill="#000" textLength="218.1" lengthAdjust="spacingAndGlyphs" >Units 2 &amp; 2-1</text>
<text x="1498.1" y="523.6" font-family="'DejaVu Sans Condensed','DejaVu Sans','Liberation Sans',sans-serif" font-size="32.5" font-weight="bold" font-style="normal" fill="#000" textLength="101.1" lengthAdjust="spacingAndGlyphs" >Unit 4</text>
<text x="1369.2" y="754.5" font-family="'DejaVu Sans Condensed','DejaVu Sans','Liberation Sans',sans-serif" font-size="32.5" font-weight="bold" font-style="normal" fill="#000" textLength="100.5" lengthAdjust="spacingAndGlyphs" >Unit 5</text>
<text x="1562.1" y="771.8" font-family="'DejaVu Sans Condensed','DejaVu Sans','Liberation Sans',sans-serif" font-size="32.5" font-weight="bold" font-style="normal" fill="#000" textLength="101.1" lengthAdjust="spacingAndGlyphs" >Unit 6</text>
<text x="1593.5" y="1038" font-family="'DejaVu Sans Condensed','DejaVu Sans','Liberation Sans',sans-serif" font-size="32.5" font-weight="bold" font-style="normal" fill="#000" textLength="98.7" lengthAdjust="spacingAndGlyphs" >Unit 7</text>
<text x="727.8" y="1051.1" font-family="'DejaVu Sans Condensed','DejaVu Sans','Liberation Sans',sans-serif" font-size="32.5" font-weight="bold" font-style="normal" fill="#000" textLength="100.8" lengthAdjust="spacingAndGlyphs" >Unit 8</text>
<text x="543.3" y="944.4" font-family="'DejaVu Sans Condensed','DejaVu Sans','Liberation Sans',sans-serif" font-size="32.5" font-weight="bold" font-style="normal" fill="#000" textLength="100.5" lengthAdjust="spacingAndGlyphs" >Unit 9</text>
<text x="508.4" y="841.3" font-family="'DejaVu Sans Condensed','DejaVu Sans','Liberation Sans',sans-serif" font-size="32.5" font-weight="bold" font-style="normal" fill="#000" textLength="121.9" lengthAdjust="spacingAndGlyphs" >Unit 10</text>
<text x="595" y="726.6" font-family="'DejaVu Sans Condensed','DejaVu Sans','Liberation Sans',sans-serif" font-size="32.5" font-weight="bold" font-style="normal" fill="#000" textLength="120.7" lengthAdjust="spacingAndGlyphs" >Unit 11</text>
<text x="1689.3" y="787" font-family="'DejaVu Sans Condensed','DejaVu Sans','Liberation Sans',sans-serif" font-size="33" font-weight="bold" font-style="normal" fill="#000" textLength="222.2" lengthAdjust="spacingAndGlyphs" >AA Cabinets</text>
<text x="1733.9" y="830.4" font-family="'DejaVu Sans Condensed','DejaVu Sans','Liberation Sans',sans-serif" font-size="33" font-weight="bold" font-style="normal" fill="#000" textLength="133.8" lengthAdjust="spacingAndGlyphs" >Makers</text>
<text x="417.7" y="1055.6" font-family="'DejaVu Sans Condensed','DejaVu Sans','Liberation Sans',sans-serif" font-size="33" font-weight="bold" font-style="normal" fill="#000" textLength="191.6" lengthAdjust="spacingAndGlyphs" >Baxendale</text>
<text x="455.2" y="1099.2" font-family="'DejaVu Sans Condensed','DejaVu Sans','Liberation Sans',sans-serif" font-size="33" font-weight="bold" font-style="normal" fill="#000" textLength="115.9" lengthAdjust="spacingAndGlyphs" >Guitar</text>
<text x="823.7" y="411.3" font-family="'DejaVu Sans Condensed','DejaVu Sans','Liberation Sans',sans-serif" font-size="31" font-weight="bold" font-style="normal" fill="#0f70c0" textLength="117.8" lengthAdjust="spacingAndGlyphs" >Bldg. A</text>
<text x="954.9" y="930" font-family="'DejaVu Sans Condensed','DejaVu Sans','Liberation Sans',sans-serif" font-size="31" font-weight="bold" font-style="normal" fill="#0f70c0" textLength="117.4" lengthAdjust="spacingAndGlyphs" >Bldg. B</text>
<text x="1242.4" y="376.3" font-family="'DejaVu Sans Condensed','DejaVu Sans','Liberation Sans',sans-serif" font-size="31" font-weight="bold" font-style="normal" fill="#0f70c0" textLength="117.9" lengthAdjust="spacingAndGlyphs" >Bldg. C</text>
<text x="1447.4" y="1120" font-family="'DejaVu Sans Condensed','DejaVu Sans','Liberation Sans',sans-serif" font-size="31" font-weight="bold" font-style="normal" fill="#1182d6" textLength="119.9" lengthAdjust="spacingAndGlyphs" >Bldg. D</text>
<text x="501.6" y="621.7" font-family="'DejaVu Sans Condensed','DejaVu Sans','Liberation Sans',sans-serif" font-size="30.5" font-weight="bold" font-style="normal" fill="#c00000" textLength="154.1" lengthAdjust="spacingAndGlyphs" >Available</text>
<text x="494.1" y="661.7" font-family="'DejaVu Sans Condensed','DejaVu Sans','Liberation Sans',sans-serif" font-size="30.5" font-weight="bold" font-style="normal" fill="#c00000" textLength="171.6" lengthAdjust="spacingAndGlyphs" >±1,350 SF</text>
<text x="1621.7" y="535.6" font-family="'DejaVu Sans Condensed','DejaVu Sans','Liberation Sans',sans-serif" font-size="30.5" font-weight="bold" font-style="normal" fill="#c00000" textLength="153.6" lengthAdjust="spacingAndGlyphs" >Available</text>
<text x="1613.9" y="575.2" font-family="'DejaVu Sans Condensed','DejaVu Sans','Liberation Sans',sans-serif" font-size="30.5" font-weight="bold" font-style="normal" fill="#c00000" textLength="171.5" lengthAdjust="spacingAndGlyphs" >±2,236 SF</text>
<text x="1715.5" y="1053.3" font-family="'DejaVu Sans Condensed','DejaVu Sans','Liberation Sans',sans-serif" font-size="30.5" font-weight="bold" font-style="normal" fill="#c00000" textLength="155.3" lengthAdjust="spacingAndGlyphs" >Available</text>
<text x="1708.9" y="1092.4" font-family="'DejaVu Sans Condensed','DejaVu Sans','Liberation Sans',sans-serif" font-size="30.5" font-weight="bold" font-style="normal" fill="#c00000" textLength="171.8" lengthAdjust="spacingAndGlyphs" >±2,212 SF</text>
<text x="638.4" y="1213.4" font-family="'DejaVu Sans Condensed','DejaVu Sans','Liberation Sans',sans-serif" font-size="30.5" font-weight="bold" font-style="normal" fill="#c00000" textLength="154.3" lengthAdjust="spacingAndGlyphs" >Available</text>
<text x="631" y="1252.2" font-family="'DejaVu Sans Condensed','DejaVu Sans','Liberation Sans',sans-serif" font-size="30.5" font-weight="bold" font-style="normal" fill="#c00000" textLength="172.1" lengthAdjust="spacingAndGlyphs" >±1,350 SF</text>
<text transform="translate(909.5,209.5) rotate(-26.5)" x="0" y="0" font-family="'Liberation Sans','DejaVu Sans',sans-serif" font-size="16.3" fill="#222" textLength="143.6" lengthAdjust="spacingAndGlyphs">AGUA FRIA ST.</text>
<text x="57.1" y="91.5" font-family="'DejaVu Sans Condensed','DejaVu Sans','Liberation Sans',sans-serif" font-size="31.5" font-weight="normal" font-style="italic" fill="#000" textLength="56.5" lengthAdjust="spacingAndGlyphs" >Site</text>
<text x="125.7" y="91.5" font-family="'DejaVu Sans Condensed','DejaVu Sans','Liberation Sans',sans-serif" font-size="31.5" font-weight="normal" font-style="italic" fill="#000" textLength="62.7" lengthAdjust="spacingAndGlyphs" >plan</text>
<text x="201.2" y="91.5" font-family="'DejaVu Sans Condensed','DejaVu Sans','Liberation Sans',sans-serif" font-size="31.5" font-weight="normal" font-style="italic" fill="#000" textLength="43.5" lengthAdjust="spacingAndGlyphs" >not</text>
<text x="256.1" y="91.5" font-family="'DejaVu Sans Condensed','DejaVu Sans','Liberation Sans',sans-serif" font-size="31.5" font-weight="normal" font-style="italic" fill="#000" textLength="26.3" lengthAdjust="spacingAndGlyphs" >to</text>
<text x="292.1" y="91.5" font-family="'DejaVu Sans Condensed','DejaVu Sans','Liberation Sans',sans-serif" font-size="31.5" font-weight="normal" font-style="italic" fill="#000" textLength="73" lengthAdjust="spacingAndGlyphs" >scale,</text>
<text x="377.9" y="91.5" font-family="'DejaVu Sans Condensed','DejaVu Sans','Liberation Sans',sans-serif" font-size="31.5" font-weight="normal" font-style="italic" fill="#000" textLength="39.3" lengthAdjust="spacingAndGlyphs" >for</text>
<text x="425.9" y="91.5" font-family="'DejaVu Sans Condensed','DejaVu Sans','Liberation Sans',sans-serif" font-size="31.5" font-weight="normal" font-style="italic" fill="#000" textLength="102.1" lengthAdjust="spacingAndGlyphs" >location</text>
<text x="538.1" y="91.5" font-family="'DejaVu Sans Condensed','DejaVu Sans','Liberation Sans',sans-serif" font-size="31.5" font-weight="normal" font-style="italic" fill="#000" textLength="120.3" lengthAdjust="spacingAndGlyphs" >purposes</text>
<text x="669.5" y="91.5" font-family="'DejaVu Sans Condensed','DejaVu Sans','Liberation Sans',sans-serif" font-size="31.5" font-weight="normal" font-style="italic" fill="#000" textLength="59.9" lengthAdjust="spacingAndGlyphs" >only.</text>
<text x="121.1" y="569.3" font-family="'DejaVu Sans Condensed','DejaVu Sans','Liberation Sans',sans-serif" font-size="31.5" font-weight="normal" font-style="normal" fill="#000" textLength="326.1" lengthAdjust="spacingAndGlyphs" >10’x10’ overhead door</text>
<text x="152.3" y="611.8" font-family="'DejaVu Sans Condensed','DejaVu Sans','Liberation Sans',sans-serif" font-size="31.5" font-weight="normal" font-style="normal" fill="#000" textLength="294.9" lengthAdjust="spacingAndGlyphs" >with high-bay space</text>
<text x="156.6" y="653.8" font-family="'DejaVu Sans Condensed','DejaVu Sans','Liberation Sans',sans-serif" font-size="31.5" font-weight="normal" font-style="normal" fill="#000" textLength="290.6" lengthAdjust="spacingAndGlyphs" >±428 SF mezzanine</text>
<text x="137.8" y="695.5" font-family="'DejaVu Sans Condensed','DejaVu Sans','Liberation Sans',sans-serif" font-size="31.5" font-weight="normal" font-style="normal" fill="#000" textLength="309.4" lengthAdjust="spacingAndGlyphs" >Office/reception area</text>
<text x="240" y="1181.4" font-family="'DejaVu Sans Condensed','DejaVu Sans','Liberation Sans',sans-serif" font-size="31.5" font-weight="normal" font-style="normal" fill="#000" textLength="325.9" lengthAdjust="spacingAndGlyphs" >10’x10’ overhead door</text>
<text x="272.2" y="1223.8" font-family="'DejaVu Sans Condensed','DejaVu Sans','Liberation Sans',sans-serif" font-size="31.5" font-weight="normal" font-style="normal" fill="#000" textLength="293.7" lengthAdjust="spacingAndGlyphs" >with high-bay space</text>
<text x="275.8" y="1266.2" font-family="'DejaVu Sans Condensed','DejaVu Sans','Liberation Sans',sans-serif" font-size="31.5" font-weight="normal" font-style="normal" fill="#000" textLength="290.1" lengthAdjust="spacingAndGlyphs" >±544 SF mezzanine</text>
<text x="257.3" y="1308.3" font-family="'DejaVu Sans Condensed','DejaVu Sans','Liberation Sans',sans-serif" font-size="31.5" font-weight="normal" font-style="normal" fill="#000" textLength="308.6" lengthAdjust="spacingAndGlyphs" >Office/reception area</text>
<text x="1895" y="513.1" font-family="'DejaVu Sans Condensed','DejaVu Sans','Liberation Sans',sans-serif" font-size="31.5" font-weight="normal" font-style="normal" fill="#000" textLength="227.4" lengthAdjust="spacingAndGlyphs" >6 offices/rooms</text>
<text x="1895" y="555.8" font-family="'DejaVu Sans Condensed','DejaVu Sans','Liberation Sans',sans-serif" font-size="31.5" font-weight="normal" font-style="normal" fill="#000" textLength="270.5" lengthAdjust="spacingAndGlyphs" >Shared bathrooms</text>
<text x="1896.2" y="598.4" font-family="'DejaVu Sans Condensed','DejaVu Sans','Liberation Sans',sans-serif" font-size="31.5" font-weight="normal" font-style="normal" fill="#000" textLength="210.3" lengthAdjust="spacingAndGlyphs" >Flexible layout</text>
<text x="1979.9" y="1010.6" font-family="'DejaVu Sans Condensed','DejaVu Sans','Liberation Sans',sans-serif" font-size="31.5" font-weight="normal" font-style="normal" fill="#000" textLength="326.8" lengthAdjust="spacingAndGlyphs" >10’x10’ overhead door</text>
<text x="1979.9" y="1053.3" font-family="'DejaVu Sans Condensed','DejaVu Sans','Liberation Sans',sans-serif" font-size="31.5" font-weight="normal" font-style="normal" fill="#000" textLength="293.7" lengthAdjust="spacingAndGlyphs" >with high-bay space</text>
<text x="1979.9" y="1095.4" font-family="'DejaVu Sans Condensed','DejaVu Sans','Liberation Sans',sans-serif" font-size="31.5" font-weight="normal" font-style="normal" fill="#000" textLength="291.6" lengthAdjust="spacingAndGlyphs" >±685 SF mezzanine</text>
<text x="1979.9" y="1138" font-family="'DejaVu Sans Condensed','DejaVu Sans','Liberation Sans',sans-serif" font-size="31.5" font-weight="normal" font-style="normal" fill="#000" textLength="307.2" lengthAdjust="spacingAndGlyphs" >Office/reception area</text>
</g>
<rect x="80.2" y="552.2" width="9.2" height="9.2" fill="#0f3d14"/>
<rect x="115.7" y="637.7" width="9.2" height="9.2" fill="#0f3d14"/>
<rect x="98.3" y="680.2" width="9.2" height="9.2" fill="#0f3d14"/>
<rect x="199.1" y="1166.4" width="9.2" height="9.2" fill="#0f3d14"/>
<rect x="234.8" y="1251.1" width="9.2" height="9.2" fill="#0f3d14"/>
<rect x="217.2" y="1293.8" width="9.2" height="9.2" fill="#0f3d14"/>
<rect x="1856" y="498" width="9.2" height="9.2" fill="#0f3d14"/>
<rect x="1856" y="540.3" width="9.2" height="9.2" fill="#0f3d14"/>
<rect x="1856" y="583" width="9.2" height="9.2" fill="#0f3d14"/>
<rect x="1940.2" y="994" width="9.2" height="9.2" fill="#0f3d14"/>
<rect x="1940.2" y="1078.7" width="9.2" height="9.2" fill="#0f3d14"/>
<rect x="1940.2" y="1121.4" width="9.2" height="9.2" fill="#0f3d14"/>
<path d="M453.5,521.6 Q461,522.2 465.8,522.2 Q469.8,522.2 469.8,526.2 L469.8,617.1 Q469.8,621.1 484.5,621.6 Q469.8,622.1 469.8,626.1 L469.8,715.7 Q469.8,719.7 465.8,719.7 Q461,719.7 453.5,720.3" fill="none" stroke="#1f3a1f" stroke-width="3.3" stroke-linecap="butt" stroke-linejoin="miter"/>
<path d="M568,1143.2 Q581.5,1143.8 586.3,1143.8 Q590.3,1143.8 590.3,1147.8 L590.3,1234.2 Q590.3,1238.2 610.6,1238.7 Q590.3,1239.2 590.3,1243.2 L590.3,1327.2 Q590.3,1331.2 586.3,1331.2 Q581.5,1331.2 568,1331.8" fill="none" stroke="#1f3a1f" stroke-width="3.3" stroke-linecap="butt" stroke-linejoin="miter"/>
<path d="M1848.7,469.2 Q1837.4,469.8 1832.6,469.8 Q1828.6,469.8 1828.6,473.8 L1828.6,539.8 Q1828.6,543.8 1808.4,544.3 Q1828.6,544.8 1828.6,548.8 L1828.6,614.1 Q1828.6,618.1 1832.6,618.1 Q1837.4,618.1 1848.7,618.7" fill="none" stroke="#1f3a1f" stroke-width="3.3" stroke-linecap="butt" stroke-linejoin="miter"/>
<path d="M1932,952.9 Q1920.8,953.5 1916,953.5 Q1912,953.5 1912,957.5 L1912,1055.7 Q1912,1059.7 1892.5,1060.2 Q1912,1060.7 1912,1064.7 L1912,1162 Q1912,1166 1916,1166 Q1920.8,1166 1932,1166.6" fill="none" stroke="#1f3a1f" stroke-width="3.3" stroke-linecap="butt" stroke-linejoin="miter"/>
<g id="arrows" fill="#fbbf0c" stroke="#4a3a05" stroke-width="0.9" stroke-linejoin="miter">
<polygon points="601,273.9 605.9,281.5 586.7,293.6 593.9,303.9 597.9,301.2 600.6,321.8 582.7,311.9 586.2,309.7 574.6,291.3"/>
<polygon points="584,325.8 565.7,296.7 550.9,306.1 548.6,303 537.9,320.9 558,318.6 556.3,314.6 563.4,309.2 577.7,330.7"/>
<polygon points="559.8,346.8 585.8,329.4 597,346.8 600.6,345 602.8,365.2 585.8,354.4 589.4,352.2 583.1,342.4 564.3,354.4"/>
<polygon points="620.7,351.8 613.6,356.7 594.3,326.7 609.5,317.3 607.3,313.7 627,311.5 616.7,328.9 614.4,325.4 606.4,329.8"/>
</g>
<g id="ibeam">
<rect x="44.8" y="445.6" width="282.8" height="15.2" fill="#4a8fd1"/>
<rect x="44.8" y="445.6" width="40" height="15.2" fill="#7fb2e2" opacity="0.55"/>
<text x="44.3" y="442" font-family="'DejaVu Sans Light','DejaVu Sans','Liberation Sans',sans-serif" font-size="33.5" font-weight="200" fill="#66676c" stroke="#66676c" stroke-width="0.55" textLength="122.5" lengthAdjust="spacingAndGlyphs">iBeam</text>
<text x="86.2" y="457.6" font-family="'Liberation Sans','DejaVu Sans',sans-serif" font-size="10.4" fill="#fff" textLength="77.3" lengthAdjust="spacing">Materials</text>
<circle cx="45.9" cy="419.6" r="1.3" fill="#4d7fb8"/><circle cx="41.8" cy="415.6" r="1" fill="#7fa6d0"/><circle cx="38.6" cy="413" r="0.7" fill="#b5cbe4"/>
</g>
<g id="scepter">
<text x="1559.5" y="223.4" font-family="'Liberation Sans','DejaVu Sans',sans-serif" font-size="31" fill="#0c0c0c" textLength="228.5" lengthAdjust="spacingAndGlyphs">Scepter Lab</text>
<path d="M1828.8,220 Q1824.4,200.6 1804.8,197.2 Q1809.2,216.6 1828.8,220Z" fill="#070707"/>
<path d="M1828.8,220 Q1847.9,216.6 1851.6,197.6 Q1832.5,201 1828.8,220Z" fill="#070707"/>
<path d="M1828.8,220 Q1813.9,210.9 1798.3,218.8 Q1813.2,227.9 1828.8,220Z" fill="#070707"/>
<path d="M1828.8,220 Q1844.3,227.9 1859.2,218.8 Q1843.7,210.9 1828.8,220Z" fill="#070707"/>
<path d="M1828.8,220 Q1813.9,221.3 1808.7,235.3 Q1823.6,234 1828.8,220Z" fill="#070707"/>
<path d="M1828.8,220 Q1834.1,234 1849,235.3 Q1843.7,221.3 1828.8,220Z" fill="#070707"/>
<path d="M1829.1,188.3 Q1831.5,190 1832,196 L1835.3,208.5 L1823.6,208.5 L1826.6,196 Q1827,190 1829.1,188.3Z" fill="#070707"/>
<path d="M1825.4,210.1 L1832.2,210.1 L1832.2,216.9 L1839.6,233.4 L1818,233.4 L1825.4,216.9 Z" fill="#fff"/>
<path d="M1824,224.9 L1833.9,224.9 L1838,232.4 L1819.6,232.4 Z" fill="#6dbb2c"/>
<circle cx="1828.6" cy="199.2" r="1.9" fill="#fff"/><circle cx="1830.3" cy="204.5" r="1.3" fill="#fff"/><circle cx="1827.9" cy="207.4" r="0.9" fill="#fff"/>
</g>
<g id="cannabis">
<ellipse cx="397.5" cy="851.6" rx="77" ry="72.3" fill="#020202"/>
<path id="hcarc" d="M348.1,845 A50.6,50.6 0 0 1 448.9,845" fill="none"/>
<text font-family="'Liberation Sans','DejaVu Sans',sans-serif" font-size="8.3" font-weight="bold" fill="#f4f4f4" letter-spacing="6.7" word-spacing="2"><textPath href="#hcarc" startOffset="50%" text-anchor="middle">·HIGH CLASS·</textPath></text>
<path d="M398.3,846.5 Q404.7,827 398.3,807.5 Q391.9,827 398.3,846.5Z" fill="#76b339"/>
<path d="M398.3,846.5 Q393,829.2 378.8,818 Q384.1,835.3 398.3,846.5Z" fill="#76b339"/>
<path d="M398.3,846.5 Q412.5,835.3 417.8,818 Q403.6,829.2 398.3,846.5Z" fill="#76b339"/>
<path d="M398.3,846.5 Q387.4,836.8 372.8,836 Q383.7,845.7 398.3,846.5Z" fill="#76b339"/>
<path d="M398.3,846.5 Q412.9,845.7 423.8,836 Q409.2,836.8 398.3,846.5Z" fill="#76b339"/>
<path d="M398.3,846.5 Q391.3,844.5 385.3,848.5 Q392.3,850.5 398.3,846.5Z" fill="#76b339"/>
<path d="M398.3,846.5 Q404.3,850.5 411.3,848.5 Q405.3,844.5 398.3,846.5Z" fill="#76b339"/>
<line x1="398.3" y1="846.5" x2="398.3" y2="850.0" stroke="#76b339" stroke-width="1"/>
<text x="357.1" y="848.3" font-family="'Liberation Sans','DejaVu Sans',sans-serif" font-size="5.4" font-weight="bold" fill="#e8e8e8" textLength="19.1" lengthAdjust="spacingAndGlyphs">ESTD</text>
<text x="419.7" y="848.3" font-family="'Liberation Sans','DejaVu Sans',sans-serif" font-size="5.4" font-weight="bold" fill="#e8e8e8" textLength="17.9" lengthAdjust="spacingAndGlyphs">2022</text>
<path d="M344.6,848.5 Q343.6,852.3 348,852.3 L446,852.3 Q450.4,852.3 449.4,848.5" fill="none" stroke="#7d8a55" stroke-width="0.9"/>
<path d="M344.6,879 Q343.6,875.2 348,875.2 L446,875.2 Q450.4,875.2 449.4,879" fill="none" stroke="#7d8a55" stroke-width="0.9"/>
<text x="344.6" y="872" font-family="'Liberation Serif','DejaVu Serif',serif" font-size="21.4" font-weight="bold" fill="#fff" textLength="104.4" lengthAdjust="spacingAndGlyphs">CANNABIS</text>
</g>
<g id="staygold">
<defs><linearGradient id="gold" x1="0" y1="0" x2="1" y2="1"><stop offset="0" stop-color="#e3c35d"/><stop offset="0.5" stop-color="#d8b044"/><stop offset="1" stop-color="#c7962c"/></linearGradient></defs>
<g fill="none" stroke="#6a6a6a" stroke-width="1.1">
<circle cx="327.4" cy="1053.1" r="51.3"/><circle cx="327.4" cy="1053.1" r="45.6"/>
<line x1="299.2" y1="992.1" x2="299.2" y2="1010.2"/><line x1="299.2" y1="1096" x2="299.2" y2="1115.3"/>
<line x1="310.4" y1="992.1" x2="310.4" y2="1004.7"/><line x1="310.4" y1="1101.5" x2="310.4" y2="1115.3"/>
<line x1="321.4" y1="992.1" x2="321.4" y2="1002.2"/><line x1="321.4" y1="1104" x2="321.4" y2="1115.3"/>
<line x1="333.1" y1="992.1" x2="333.1" y2="1002.1"/><line x1="333.1" y1="1104.1" x2="333.1" y2="1115.3"/>
<line x1="344.4" y1="992.1" x2="344.4" y2="1004.7"/><line x1="344.4" y1="1101.5" x2="344.4" y2="1115.3"/>
<line x1="355.3" y1="992.1" x2="355.3" y2="1010.1"/><line x1="355.3" y1="1096.1" x2="355.3" y2="1115.3"/>
</g>
<polygon points="245.4,1034.1 408.8,1034.1 402,1053.4 408.8,1072.7 245.4,1072.7 252.2,1053.4" fill="url(#gold)"/>
<polygon points="250,1037.3 404.2,1037.3 398.6,1053.4 404.2,1069.5 250,1069.5 255.6,1053.4" fill="none" stroke="#f7e9b6" stroke-width="0.8"/>
<polygon points="253.5,1039.6 400.7,1039.6 395.8,1053.4 400.7,1067.2 253.5,1067.2 258.4,1053.4" fill="none" stroke="#f7e9b6" stroke-width="0.8"/>
<g transform="translate(260.6,1063.8) scale(0.42,1)"><text x="0" y="0" font-family="'Liberation Sans','DejaVu Sans',sans-serif" font-size="26" fill="#fcf3cf" textLength="314.5" lengthAdjust="spacing" xml:space="preserve">STAY GOLD</text></g>
</g>
<g id="adobe" transform="translate(1930,720) scale(0.09692)">
<path d="M135,1232 L135,785 Q140,745 200,738 L318,722 Q350,716 350,690 L352,500 Q356,424 430,412 L558,398 Q580,395 580,370 L582,262 Q586,190 660,183 L988,180 Q1056,184 1061,250 L1066,410 Q1070,472 1130,478 L1480,478 Q1584,490 1600,580 L1618,792 L1875,780 L1875,1236 Q1600,1262 1380,1225 L1250,1222 L470,1228 L410,1200 Q300,1250 135,1232 Z" fill="#000"/>
<path d="M442,1290 L442,930 Q446,868 520,858 Q608,845 612,780 L614,690 Q620,636 690,636 L868,636 Q928,640 930,700 L932,840 Q940,932 1030,935 L1240,935 Q1290,940 1292,1000 L1296,1290" fill="none" stroke="#fff" stroke-width="80" stroke-linejoin="round"/>
<path d="M700,1290 L700,1085 Q704,1022 770,1020 Q836,1022 840,1085 L840,1290 Z" fill="#fff"/>
<rect x="1115" y="610" width="125" height="106" fill="#fff"/><rect x="1370" y="610" width="125" height="106" fill="#fff"/>
<path d="M1600,560 L1800,780 L1620,792 Z" fill="#fff"/>
<g fill="none" stroke="#000" stroke-linecap="round"><path d="M1325,178 Q1362,265 1420,340 L1510,490" stroke-width="34"/><path d="M1482,122 Q1522,172 1560,252 L1868,788" stroke-width="36"/><path d="M1425,330 L1545,288 M1485,425 L1608,388 M1560,515 L1668,492 M1618,720 L1762,652" stroke-width="36"/></g>
<rect x="0" y="1245" width="2000" height="80" fill="#fff"/>
</g>
</svg>
</body></html>
